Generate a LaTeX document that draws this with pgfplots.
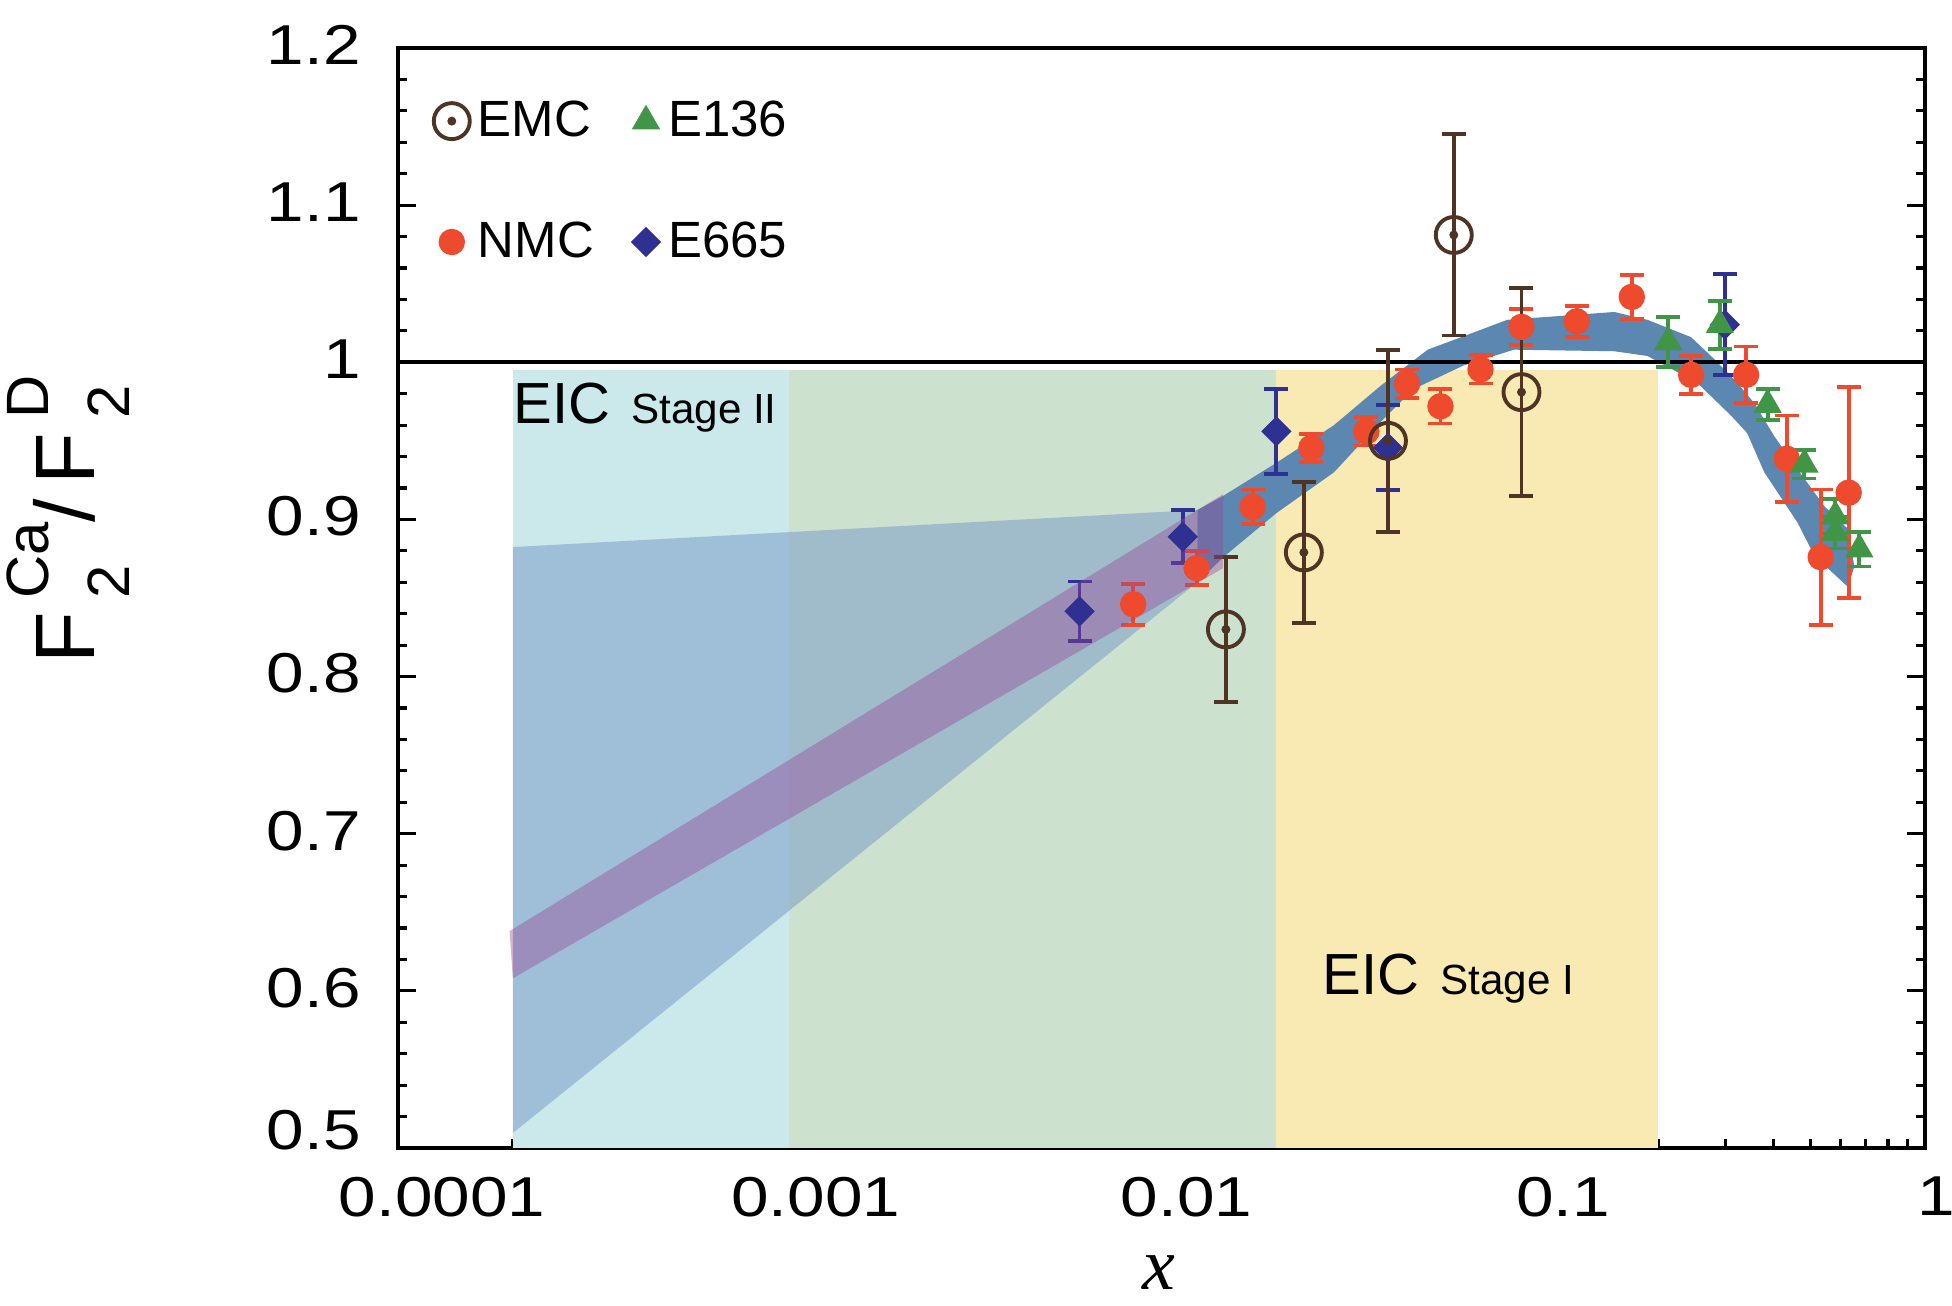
\documentclass[border=0pt]{standalone}
\usepackage{fontspec}
\setmainfont{Liberation Sans}
\newfontfamily\tickfont{Liberation Sans}[FakeStretch=1.2]
\newfontfamily\xfont{Liberation Serif}
\usepackage{pgfplots}
\pgfplotsset{compat=1.18}

\definecolor{emc}{RGB}{79,52,36}
\definecolor{nmc}{RGB}{238,74,46}
\definecolor{eoneth}{RGB}{64,150,70}
\definecolor{esixsix}{RGB}{46,49,146}
\definecolor{stagetwo}{RGB}{203,232,234}
\definecolor{overlap}{RGB}{204,226,207}
\definecolor{stageone}{RGB}{249,234,180}
\definecolor{wedge}{RGB}{117,150,198}
\definecolor{fitband}{RGB}{91,135,176}
\definecolor{smallx}{RGB}{150,70,150}

% circle with a dot in the middle (EMC)
\pgfdeclareplotmark{odot}{%
  \pgfpathcircle{\pgfpointorigin}{\pgfplotmarksize}\pgfusepathqstroke
  \pgfpathcircle{\pgfpointorigin}{0.25\pgfplotmarksize}\pgfusepathqfill}

\pgfplotsset{
  errs/.style={error bars/.cd, y dir=both, y explicit,
    error bar style={line width=1.1pt},
    error mark options={rotate=90, line width=1.1pt, mark size=0.12cm}},
}

\begin{document}
\begin{tikzpicture}
\begin{axis}[
    scale only axis, width=15.27cm, height=11cm,
    xmode=log, xmin=1e-4, xmax=1, ymin=0.5, ymax=1.2,
    xtick={0.0001,0.001,0.01,0.1,1},
    xticklabels={\hspace{0.88cm}0.0001,\hspace{0.72cm}0.001,\hspace{0.5cm}0.01,\hspace{0.4cm}0.1,\hspace{0.22cm}1},
    minor xtick={2e-4,3e-4,4e-4,5e-4,6e-4,7e-4,8e-4,9e-4,
                 2e-3,3e-3,4e-3,5e-3,6e-3,7e-3,8e-3,9e-3,
                 0.02,0.03,0.04,0.05,0.06,0.07,0.08,0.09,
                 0.2,0.3,0.4,0.5,0.6,0.7,0.8,0.9},
    ytick={0.5,0.6,0.7,0.8,0.9,1,1.1,1.2},
    yticklabels={\raisebox{0.3cm}{0.5},0.6,0.7,0.8,0.9,1,1.1,1.2},
    minor y tick num=4,
    xtick pos=bottom, ytick pos=both,
    tick align=inside,
    major tick length=0.18cm, minor tick length=0.09cm,
    every tick/.style={black, line width=0.9pt},
    axis line style={line width=1.2pt},
    tick label style={font=\tickfont\fontsize{16}{16}\selectfont},
    yticklabel style={xshift=-0.25cm, yshift=0.03cm},
    xticklabel style={yshift=-0.165cm, inner xsep=0pt},
    xlabel={\xfont\itshape x},
    xlabel style={font=\fontsize{21}{21}\selectfont, at={(axis description cs:0.498,-0.113)}, anchor=center, inner sep=0pt},
    ylabel={\fontsize{24}{24}\selectfont F\,\rlap{\raisebox{-0.42em}{\fontsize{17}{17}\selectfont 2}}\raisebox{0.55em}{\fontsize{17}{17}\selectfont Ca}/\,F\,\rlap{\raisebox{-0.42em}{\fontsize{17}{17}\selectfont 2}}\raisebox{0.55em}{\fontsize{17}{17}\selectfont D}},
    ylabel style={at={(axis description cs:-0.216,0.571)}, anchor=center},
    legend columns=2, reverse legend,
    legend cell align=left,
    legend image code/.code={\draw[mark repeat=2,mark phase=2,#1] plot coordinates {(0cm,0cm) (0.1cm,0cm) (0.2cm,0cm)};},
    legend style={at={(axis description cs:0.023,0.9527)}, anchor=north west,
      draw=none, fill=none, inner sep=0pt, row sep=0.8cm,
      font=\fontsize{14.5}{14.5}\selectfont,
      nodes={inner xsep=0.08cm, inner ysep=0pt},
      /tikz/every even column/.append style={column sep=0.3cm}},
  ]

  % EIC acceptance regions
  \addplot[forget plot, fill=stagetwo, draw=none] coordinates {(2e-4,0.5) (1.06e-3,0.5) (1.06e-3,0.995) (2e-4,0.995)} -- cycle;
  \addplot[forget plot, fill=overlap, draw=none] coordinates {(1.06e-3,0.5) (0.02,0.5) (0.02,0.995) (1.06e-3,0.995)} -- cycle;
  \addplot[forget plot, fill=stageone, draw=none] coordinates {(0.02,0.5) (0.2,0.5) (0.2,0.995) (0.02,0.995)} -- cycle;

  % extrapolation wedge
  \addplot[forget plot, fill=wedge, fill opacity=0.5, draw=none] coordinates {(2e-4,0.8824) (0.01242,0.906) (0.01242,0.86) (2e-4,0.5096)} -- cycle;

  % fit band
  \addplot[forget plot, fill=fitband, draw=none] coordinates {
    (0.01242,0.906) (0.01452,0.915) (0.02,0.936) (0.02831,0.960) (0.0375,0.985)
    (0.0498,1.008) (0.0805,1.027) (0.1535,1.032) (0.1875,1.027) (0.2438,1.016)
    (0.2805,1.002) (0.3162,0.989) (0.3573,0.974) (0.4027,0.953) (0.4634,0.932)
    (0.5445,0.9085) (0.6281,0.894) (0.6531,0.870)
    (0.6281,0.857) (0.5129,0.877) (0.4634,0.898) (0.3793,0.930) (0.342,0.955)
    (0.3105,0.966) (0.2529,0.987) (0.1875,1.004) (0.1535,1.007) (0.0838,1.008)
    (0.0619,0.998) (0.0458,0.983) (0.0375,0.962) (0.02831,0.930) (0.02,0.904)
    (0.01452,0.876) (0.01242,0.86)} -- cycle;

  \addplot[forget plot, black, line width=1.1pt] coordinates {(1e-4,1) (1,1)};

  % data
  \addplot[only marks, color=esixsix, mark=square*, mark size=0.1cm,
    mark options={rotate=45, fill=esixsix, draw=esixsix}, errs]
    coordinates {
    (0.0061,0.8415) +- (0,0.019)
    (0.01137,0.889) +- (0,0.017)
    (0.02,0.956) +- (0,0.027)
    (0.0392,0.9456) +- (0,0.027)
    (0.299,1.024) +- (0,0.032)};
  \addlegendentry{E665}

  \addplot[only marks, color=nmc, mark=*, mark size=0.125cm,
    mark options={fill=nmc, draw=nmc}, errs]
    coordinates {
    (0.00843,0.846) +- (0,0.013)
    (0.01236,0.869) +- (0,0.011)
    (0.01733,0.908) +- (0,0.011)
    (0.0247,0.9456) +- (0,0.009)
    (0.0344,0.956) +- (0,0.009)
    (0.044,0.9864) +- (0,0.009)
    (0.0538,0.972) +- (0,0.011)
    (0.0685,0.9955) +- (0,0.009)
    (0.0877,1.0225) +- (0,0.0115)
    (0.1224,1.026) +- (0,0.010)
    (0.1706,1.0416) +- (0,0.014)
    (0.244,0.992) +- (0,0.012)
    (0.34,0.992) +- (0,0.018)
    (0.4345,0.9386) +- (0,0.0275)
    (0.533,0.876) +- (0,0.043)
    (0.631,0.917) +- (0,0.067)};
  \addlegendentry{NMC}

  \addplot[only marks, color=eoneth, mark=triangle*, mark size=0.15cm,
    mark options={fill=eoneth, draw=eoneth}, errs]
    coordinates {
    (0.2124,1.013) +- (0,0.016)
    (0.29,1.0237) +- (0,0.0155)
    (0.387,0.973) +- (0,0.010)
    (0.483,0.935) +- (0,0.009)
    (0.582,0.902) +- (0,0.011)
    (0.582,0.8915) +- (0,0.010)
    (0.673,0.881) +- (0,0.011)};
  \addlegendentry{E136}

  \addplot[only marks, color=emc, mark=odot, mark size=0.18cm,
    mark options={fill=emc, draw=emc, line width=1.1pt}, errs]
    coordinates {
    (0.01475,0.830) +- (0,0.046)
    (0.0236,0.879) +- (0,0.045)
    (0.0392,0.950) +- (0,0.058)
    (0.0583,1.081) +- (0,0.064)
    (0.0877,0.981) +- (0,0.066)};
  \addlegendentry{EMC}

  % small-x band, drawn over the points
  \addplot[forget plot, fill=smallx, fill opacity=0.4, draw=none] coordinates {(1.96e-4,0.638) (0.0145,0.916) (0.0145,0.869) (2e-4,0.608)} -- cycle;

  \node[anchor=base west, inner sep=0pt] at (axis cs:2e-4,0.961)
    {{\fontsize{16.5}{16.5}\selectfont EIC}\hspace{0.21cm}{\fontsize{12}{12}\selectfont Stage II}};
  \node[anchor=base west, inner sep=0pt] at (axis cs:0.02636,0.5975)
    {{\fontsize{16.5}{16.5}\selectfont EIC}\hspace{0.21cm}{\fontsize{12}{12}\selectfont Stage I}};
\end{axis}
\pgfresetboundingbox
\useasboundingbox (current axis.south west) ++(-3.98cm,-1.58cm) rectangle ++(19.52cm,13.06cm);
\end{tikzpicture}
\end{document}
